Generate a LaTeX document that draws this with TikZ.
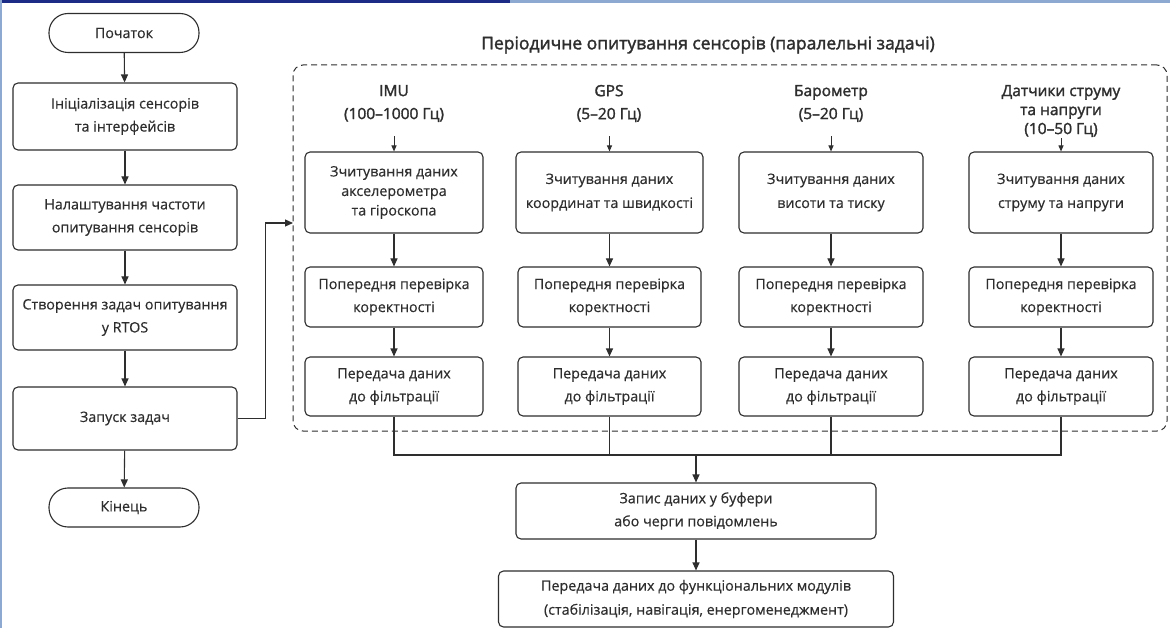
\documentclass[tikz,border=0pt]{standalone}
\usepackage{fontspec}
\setmainfont{Open Sans}[FakeBold=0.4]
\newfontfamily\headfont{Open Sans}[FakeBold=1.8]
\usetikzlibrary{arrows.meta,calc}
\definecolor{ink}{HTML}{2E2E2E}
\definecolor{navybar}{HTML}{1C2C86}
\definecolor{paleblue}{HTML}{8DA9D2}

\begin{document}
\begin{tikzpicture}[x=1pt,y=-1pt,
  every node/.style={text=ink},
  txt/.style={font=\fontsize{14.3}{23}\selectfont},
  proc/.style={txt, draw=ink, line width=1.1pt, rounded corners=5pt,
    align=center, inner sep=0pt},
  term/.style={txt, draw=ink, line width=1.1pt, rounded corners=19pt,
    minimum width=150pt, minimum height=39pt, inner sep=0pt},
  arr/.style={draw=ink, line width=1.1pt, -{Triangle[length=8pt,width=7pt]}},
  smallarr/.style={draw=ink, line width=1pt, -{Triangle[length=6pt,width=5pt]}},
  wire/.style={draw=ink, line width=1.1pt},
  head/.style={align=center, font=\headfont\fontsize{15.5}{23}\selectfont},
  col/.style={proc, minimum width=#1},
]
% page
\fill[white] (0,0) rectangle (1170,628);
\useasboundingbox (0,0) rectangle (1170,628);
\fill[navybar] (0,0) rectangle (510,3);
\fill[paleblue] (510,0) rectangle (1170,3);
\fill[paleblue] (0,0) rectangle (2,628);

% main sequence
\node[term] (start) at (124,33) {Початок};
\node[proc, minimum width=224pt, minimum height=67pt] (b1) at (125,116.5)
  {Ініціалізація сенсорів\\та інтерфейсів};
\node[proc, minimum width=224pt, minimum height=65pt] (b2) at (125,217.5)
  {Налаштування частоти\\опитування сенсорів};
\node[proc, minimum width=224pt, minimum height=65pt] (b3) at (125,317.5)
  {Створення задач опитування\\у RTOS};
\node[proc, minimum width=224pt, minimum height=63pt] (b4) at (125,418.5)
  {Запуск задач};
\node[term] (stop) at (124,507.5) {Кінець};

\draw[arr] (start) -- (b1);
\draw[arr] (b1) -- (b2);
\draw[arr] (b2) -- (b3);
\draw[arr] (b3) -- (b4);
\draw[arr] (b4) -- (stop);

% parallel polling tasks
\node[draw=ink, line width=1pt, dash pattern=on 6pt off 4pt, rounded corners=10pt,
  minimum width=874pt, minimum height=366pt, inner sep=0pt] (par) at (730,248) {};
\node[font=\headfont\fontsize{17.5}{20}\selectfont, text=ink] (title) at (708,45)
  {Періодичне опитування сенсорів (паралельні задачі)};
\coordinate (entry) at (293,223);
\draw[arr] (b4.east) -- ++(28,0) |- (entry);

% column headers
\node[head] (hA) at (394,103.5) {IMU\\(100–1000 Гц)};
\node[head] (hB) at (609,103.5) {GPS\\(5–20 Гц)};
\node[head] (hC) at (831,103.5) {Барометр\\(5–20 Гц)};
\node[head, font=\headfont\fontsize{15.5}{19}\selectfont] (hD) at (1061,111)
  {Датчики струму\\та напруги\\(10–50 Гц)};

% IMU
\node[col=178pt, minimum height=81pt, font=\fontsize{14.3}{19.5}\selectfont] (a1) at (394,192.5)
  {Зчитування даних\\акселерометра\\та гіроскопа};
\node[col=178pt, minimum height=60pt] (a2) at (394,297) {Попередня перевірка\\коректності};
\node[col=178pt, minimum height=59pt] (a3) at (394,386.5) {Передача даних\\до фільтрації};
% GPS
\node[col=187pt, minimum height=81pt, font=\fontsize{14.3}{24}\selectfont] (g1) at (609.5,192.5)
  {Зчитування даних\\координат та швидкості};
\node[col=183pt, minimum height=60pt] (g2) at (609.5,297) {Попередня перевірка\\коректності};
\node[col=183pt, minimum height=59pt] (g3) at (609.5,386.5) {Передача даних\\до фільтрації};
% barometer
\node[col=184pt, minimum height=81pt, font=\fontsize{14.3}{24}\selectfont] (p1) at (831,192.5)
  {Зчитування даних\\висоти та тиску};
\node[col=184pt, minimum height=60pt] (p2) at (831,297) {Попередня перевірка\\коректності};
\node[col=184pt, minimum height=59pt] (p3) at (831,386.5) {Передача даних\\до фільтрації};
% current and voltage sensors
\node[col=184pt, minimum height=81pt, font=\fontsize{14.3}{24}\selectfont] (d1) at (1061,192.5)
  {Зчитування даних\\струму та напруги};
\node[col=184pt, minimum height=60pt] (d2) at (1061,297) {Попередня перевірка\\коректності};
\node[col=184pt, minimum height=59pt] (d3) at (1061,386.5) {Передача даних\\до фільтрації};

\foreach \c/\top in {a/137, g/137, p/137, d/139} {
  \coordinate (\c0) at ($(\c1.north)+(0,{\top-152})$);
  \draw[smallarr] (\c0) -- (\c1);
  \draw[arr] (\c1) -- (\c2);
  \draw[arr] (\c2) -- (\c3);
}

% collection bus
\coordinate (bus) at (696,455);
\draw[wire] (a3.south) |- (bus) -| (d3.south);
\draw[wire] (g3.south) -- (g3.south |- bus);
\draw[wire] (p3.south) -- (p3.south |- bus);

\node[proc, minimum width=360pt, minimum height=56pt] (buf) at (696,511)
  {Запис даних у буфери\\або черги повідомлень};
\node[proc, minimum width=395pt, minimum height=56pt, font=\fontsize{14.3}{24}\selectfont] (out) at (696,599)
  {Передача даних до функціональних модулів\\(стабілізація, навігація, енергоменеджмент)};

\draw[arr] (bus) -- (buf);
\draw[arr] (buf) -- (out);
\end{tikzpicture}
\end{document}
